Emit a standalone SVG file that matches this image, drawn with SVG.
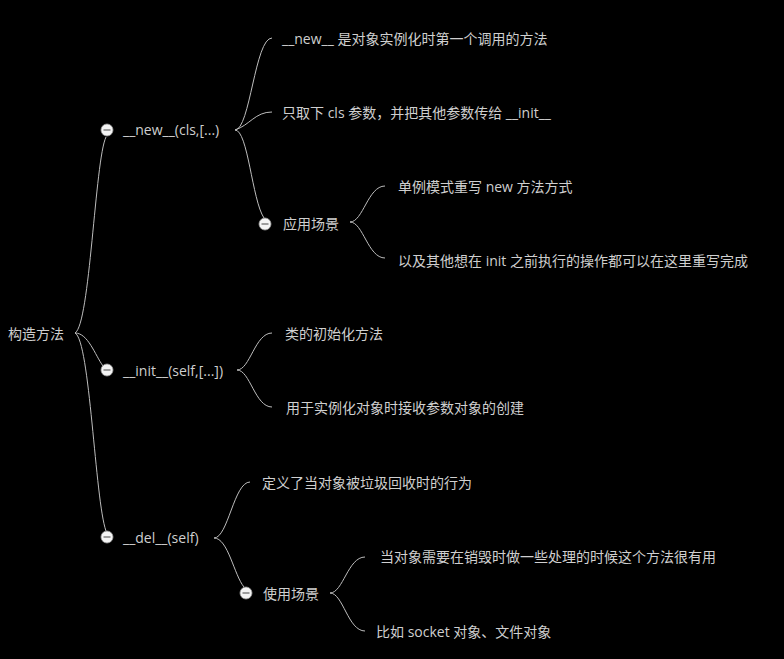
<svg xmlns="http://www.w3.org/2000/svg" width="784" height="659" viewBox="0 0 784 659">
<style>
text{font-family:"Open Sans","Noto Sans CJK SC","Microsoft YaHei",sans-serif;font-size:14px;fill:#cfcfcf}
.c{fill:none;stroke:#bdbdbd;stroke-width:1}
.dot{fill:#f4f4f4;stroke:#9a9a9a;stroke-width:0.8}
.minus{stroke:#777;stroke-width:1.4}
</style>
<rect width="784" height="659" fill="#000"/>
<g id="connectors">
<path class="c" d="M75,333 C90,325 95,160 106,137"/>
<path class="c" d="M75,333 C88,333 95,355 103,366"/>
<path class="c" d="M75,333 C90,340 95,500 106,531"/>
<path class="c" d="M235,130 C250,130 255,38 272,38"/>
<path class="c" d="M235,130 C250,125 255,112 272,112"/>
<path class="c" d="M235,130 C248,130 252,200 264,218"/>
<path class="c" d="M350,222 C363,222 368,186 385,186"/>
<path class="c" d="M350,222 C363,222 368,258 385,258"/>
<path class="c" d="M237,370 C250,370 255,333 272,333"/>
<path class="c" d="M237,370 C250,370 255,407 272,407"/>
<path class="c" d="M214,538 C228,538 234,482 250,482"/>
<path class="c" d="M214,538 C228,538 234,575 244,587"/>
<path class="c" d="M330,593 C343,593 348,557 365,557"/>
<path class="c" d="M330,593 C343,593 348,631 365,631"/>
</g>
<g id="root"><text x="8" y="339">构造方法</text></g>
<g id="n-new">
<circle class="dot" cx="107" cy="130" r="6"/><line class="minus" x1="103.5" y1="130" x2="110.5" y2="130"/>
<text x="123" y="135">__new__(cls,[...)</text>
</g>
<g id="n-new-1"><text x="282" y="44">__new__ 是对象实例化时第一个调用的方法</text></g>
<g id="n-new-2"><text x="282" y="118">只取下 cls 参数，并把其他参数传给 __init__</text></g>
<g id="n-new-3">
<circle class="dot" cx="265" cy="224" r="6"/><line class="minus" x1="261.5" y1="224" x2="268.5" y2="224"/>
<text x="283" y="229">应用场景</text>
</g>
<g id="n-new-3-1"><text x="398" y="192">单例模式重写 new 方法方式</text></g>
<g id="n-new-3-2"><text x="398" y="266">以及其他想在 init 之前执行的操作都可以在这里重写完成</text></g>
<g id="n-init">
<circle class="dot" cx="107" cy="370" r="6"/><line class="minus" x1="103.5" y1="370" x2="110.5" y2="370"/>
<text x="123" y="376">__init__(self,[...])</text>
</g>
<g id="n-init-1"><text x="285" y="339">类的初始化方法</text></g>
<g id="n-init-2"><text x="286" y="413">用于实例化对象时接收参数对象的创建</text></g>
<g id="n-del">
<circle class="dot" cx="107" cy="537" r="6"/><line class="minus" x1="103.5" y1="537" x2="110.5" y2="537"/>
<text x="123" y="543">__del__(self)</text>
</g>
<g id="n-del-1"><text x="262" y="488">定义了当对象被垃圾回收时的行为</text></g>
<g id="n-del-2">
<circle class="dot" cx="246" cy="593" r="6"/><line class="minus" x1="242.5" y1="593" x2="249.5" y2="593"/>
<text x="263" y="599">使用场景</text>
</g>
<g id="n-del-2-1"><text x="380" y="562">当对象需要在销毁时做一些处理的时候这个方法很有用</text></g>
<g id="n-del-2-2"><text x="376" y="637">比如 socket 对象、文件对象</text></g>
</svg>
